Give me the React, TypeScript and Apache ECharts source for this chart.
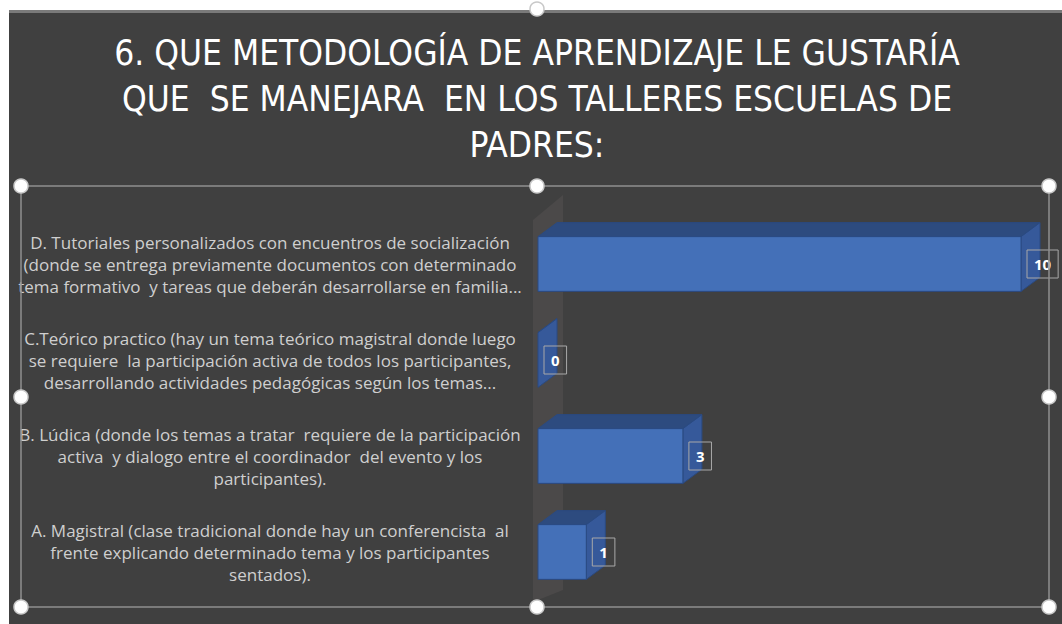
import React, { useEffect, useRef } from "react";
import * as echarts from "echarts";

const titleLines = [
  "6. QUE METODOLOGÍA DE APRENDIZAJE LE GUSTARÍA",
  "QUE  SE MANEJARA  EN LOS TALLERES ESCUELAS DE",
  "PADRES:",
];

const categories = [
  "A. Magistral (clase tradicional donde hay un conferencista  al\nfrente explicando determinado tema y los participantes\nsentados).",
  "B. Lúdica (donde los temas a tratar  requiere de la participación\nactiva  y dialogo entre el coordinador  del evento y los\nparticipantes).",
  "C.Teórico practico (hay un tema teórico magistral donde luego\nse requiere  la participación activa de todos los participantes,\ndesarrollando actividades pedagógicas según los temas...",
  "D. Tutoriales personalizados con encuentros de socialización\n(donde se entrega previamente documentos con determinado\ntema formativo  y tareas que deberán desarrollarse en familia...",
];

const values = [1, 3, 0, 10];

const GRID_LEFT = 538;
const GRID_TOP = 216;
const GRID_BOTTOM_Y = 600;
const DX = 19;
const DY = 14;

export default function App() {
  const ref = useRef<HTMLDivElement>(null);

  useEffect(() => {
    if (!ref.current) return;
    const chart = echarts.init(ref.current, undefined, { renderer: "svg" });

    const handles = [
      [21, 186], [537, 186], [1049, 186],
      [21, 397], [1049, 397],
      [21, 607], [537, 607], [1049, 607],
      [537, 9],
    ];

    const renderItem = (params: any, api: any) => {
      const v = api.value(0);
      const idx = api.value(1);
      const start = api.coord([0, idx]);
      const end = api.coord([v, idx]);
      const h = api.size([0, 1])[1] * 0.57;
      const x0 = start[0];
      const x1 = end[0];
      const y0 = start[1] - h / 2;
      const y1 = y0 + h;
      const stroke = "#2a4a82";
      const children: any[] = [
        {
          type: "polygon",
          shape: { points: [[x0, y0], [x1, y0], [x1 + DX, y0 - DY], [x0 + DX, y0 - DY]] },
          style: { fill: "#2d4b7f", stroke, lineWidth: 1 },
        },
        {
          type: "polygon",
          shape: { points: [[x1, y0], [x1 + DX, y0 - DY], [x1 + DX, y1 - DY], [x1, y1]] },
          style: { fill: "#36599a", stroke, lineWidth: 1 },
        },
      ];
      if (x1 - x0 > 0.5) {
        children.push({
          type: "rect",
          shape: { x: x0, y: y0, width: x1 - x0, height: h },
          style: { fill: "#4470b8", stroke, lineWidth: 1 },
        });
      }
      children.push({
        type: "text",
        x: x1 + 6,
        y: start[1],
        style: {
          text: String(v),
          fill: "#ffffff",
          fontSize: 15,
          fontWeight: "bold",
          fontFamily: "Open Sans",
          align: "left",
          verticalAlign: "middle",
          borderColor: "#a8a8a8",
          borderWidth: 1,
          padding: [7, 7, 6, 7],
        },
      });
      return { type: "group", children };
    };

    chart.setOption({
      animation: false,
      backgroundColor: "#ffffff",
      graphic: [
        { type: "rect", z: -10, shape: { x: 9, y: 10, width: 1053, height: 614 }, style: { fill: "#404040" } },
        { type: "rect", z: -9, shape: { x: 9, y: 10, width: 1053, height: 3 }, style: { fill: "#7a7a7a" } },
        {
          type: "polygon",
          z: -8,
          shape: {
            points: [
              [GRID_LEFT - 5, GRID_TOP + 4],
              [GRID_LEFT + 25, GRID_TOP - 21],
              [GRID_LEFT + 25, GRID_BOTTOM_Y - 10],
              [GRID_LEFT - 5, GRID_BOTTOM_Y + 2],
            ],
          },
          style: { fill: "#4b4949" },
        },
        {
          type: "text",
          x: 537,
          y: 30,
          style: {
            text: titleLines.join("\n"),
            fill: "#ffffff",
            fontSize: 35,
            fontFamily: "'DejaVu Sans Condensed', 'DejaVu Sans', sans-serif",
            lineHeight: 46,
            align: "center",
            verticalAlign: "top",
          },
        },
        { type: "polyline", z: 50, shape: { points: [[21, 186], [1049, 186], [1049, 607], [21, 607], [21, 186]] }, style: { stroke: "#8f8f8f", lineWidth: 1.5, fill: "none" } },
        ...handles.map((p) => ({
          type: "circle",
          z: 60,
          shape: { cx: p[0], cy: p[1], r: 7 },
          style: { fill: "#ffffff", stroke: "#c8c8c8", lineWidth: 1.5 },
        })),
      ],
      grid: { left: GRID_LEFT, top: GRID_TOP, right: 1062 - 1021, bottom: 624 - GRID_BOTTOM_Y },
      xAxis: {
        type: "value",
        min: 0,
        max: 10,
        show: false,
      },
      yAxis: {
        type: "category",
        data: categories,
        axisLine: { show: false },
        axisTick: { show: false },
        splitLine: { show: false },
        axisLabel: {
          align: "center",
          margin: 268,
          color: "#cfcfcf",
          fontSize: 17,
          lineHeight: 22,
          fontFamily: "'Open Sans', sans-serif",
        },
      },
      series: [
        {
          type: "custom",
          renderItem,
          clip: false,
          encode: { x: 0, y: 1 },
          data: values.map((v, i) => [v, i]),
        },
      ],
    });

    return () => chart.dispose();
  }, []);

  return <div ref={ref} style={{ position: "fixed", left: 0, top: 0, width: 1062, height: 624 }} />;
}
